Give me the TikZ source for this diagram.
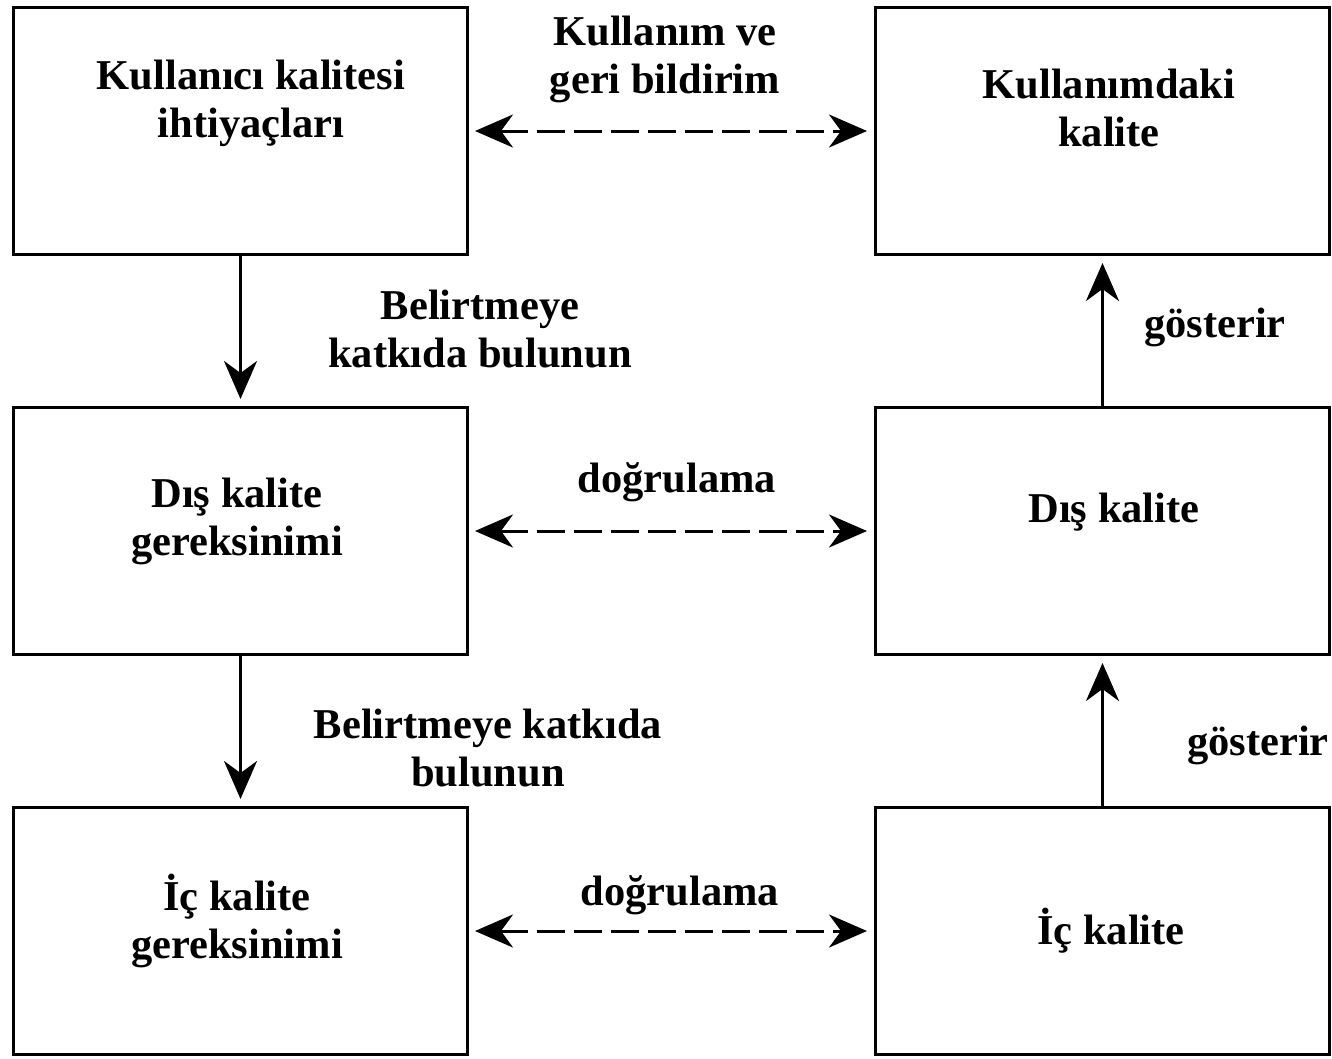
\documentclass[tikz,border=0pt]{standalone}
\usepackage{fontspec}
\setmainfont{Liberation Serif}
\usetikzlibrary{arrows.meta}
\tikzset{
  box/.style={draw=black, line width=3pt, minimum width=454pt, minimum height=247pt, inner sep=0pt},
  txt/.style={font=\fontsize{42.5}{48}\selectfont\bfseries, align=center, inner sep=0pt},
  tip/.tip={Stealth[length=38pt,width=33pt,inset=12pt]},
  conn/.style={line width=3pt, -tip, shorten >=7pt},
  dconn/.style={line width=3pt, tip-tip, dash pattern=on 28pt off 9pt, shorten >=7pt, shorten <=6pt}
}
\begin{document}
\begin{tikzpicture}[x=1pt,y=-1pt]
\useasboundingbox (0,0) rectangle (1332,1058);
\fill[white] (0,0) rectangle (1332,1058);
% boxes
\node[box] (b1) at (240.5,131) {};
\node[box] (b2) at (1102.5,131) {};
\node[box] (b3) at (240.5,531) {};
\node[box] (b4) at (1102.5,531) {};
\node[box] (b5) at (240.5,931) {};
\node[box] (b6) at (1102.5,931) {};
% box texts
\node[txt] (t1) at (251,103) {Kullanıcı kalitesi\\ihtiyaçları};
\node[txt] (t2) at (1109,108) {Kullanımdaki\\kalite};
\node[txt] (t3) at (237,521) {Dış kalite\\gereksinimi};
\node[txt] (t4) at (1114,512) {Dış kalite};
\node[txt] (t5) at (237,921) {İç kalite\\gereksinimi};
\node[txt] (t6) at (1111,931) {İç kalite};
% connector labels
\node[txt] (l1) at (665,59) {Kullanım ve\\geri bildirim};
\node[txt] (l2) at (480,329) {Belirtmeye\\katkıda bulunun};
\node[txt] (l3) at (677,482) {doğrulama};
\node[txt] (l4) at (1215,327) {gösterir};
\node[txt] (l5) at (488,748) {Belirtmeye katkıda\\bulunun};
\node[txt] (l6) at (1258,745) {gösterir};
\node[txt] (l7) at (680,895) {doğrulama};
% connectors
\draw[dconn] (b1.east) -- (b2.west);
\draw[dconn] (b3.east) -- (b4.west);
\draw[dconn] (b5.east) -- (b6.west);
\draw[conn] (b1.south) -- (b3.north);
\draw[conn] (b3.south) -- (b5.north);
\draw[conn] (b4.north) -- (b2.south);
\draw[conn] (b6.north) -- (b4.south);
\end{tikzpicture}
\end{document}
